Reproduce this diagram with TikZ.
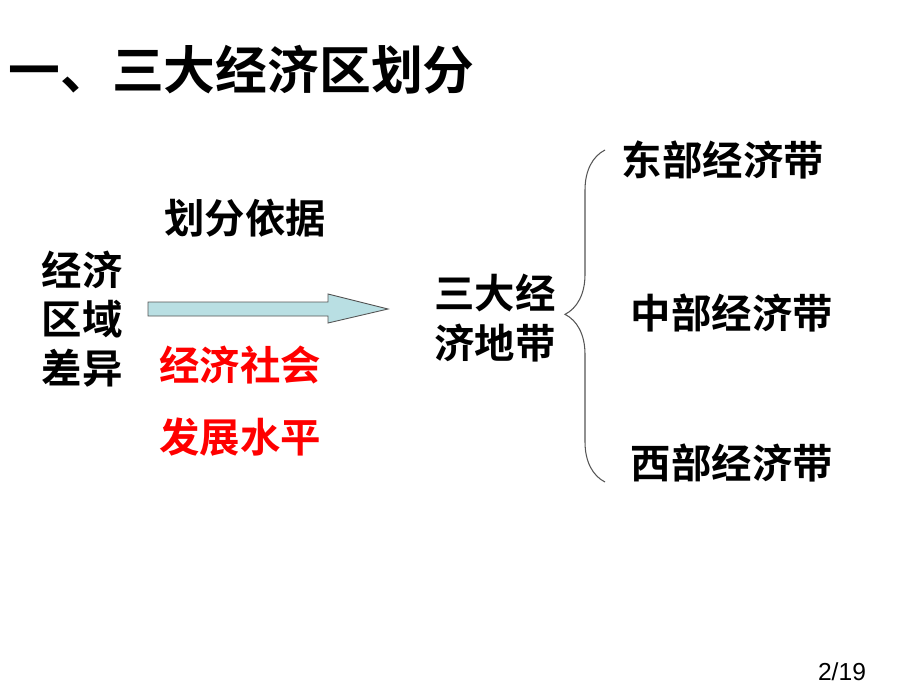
\documentclass[tikz,border=0pt]{standalone}
\usepackage{fontspec}
\setmainfont{Liberation Sans}
\newfontfamily\cjk[BoldFont={Noto Sans CJK SC Bold}]{Noto Sans CJK SC}
\usepackage{tikz}
\usetikzlibrary{positioning, decorations.pathreplacing}
\definecolor{arrowfill}{HTML}{B9DFE3}
\definecolor{braceline}{HTML}{555555}

\tikzset{
  zh/.style={font=\cjk\bfseries\fontsize{23}{28}\selectfont, inner sep=0pt, align=center},
  zhred/.style={zh, text=red},
  titletext/.style={font=\cjk\bfseries\fontsize{29.5}{34}\selectfont, inner sep=0pt},
}

\begin{document}
\begin{tikzpicture}[x=0.02cm, y=-0.02cm]
\useasboundingbox (0,0) rectangle (920,690);

% title
\node[titletext, anchor=west] (title) at (8,70) {一、三大经济区划分};

% left part
\node[zh] (diff) at (82,319) {经济\\区域\\差异};
\node[zh] (basis) at (245,218) {划分依据};
\node[zhred] (level1) at (240,365) {经济社会};
\node[zhred] (level2) at (240,437) {发展水平};

% arrow
\filldraw[fill=arrowfill, draw=braceline, line width=0.5pt]
  (148,302) -- (328,302) -- (328,294) -- (388,309)
  -- (328,323) -- (328,316) -- (148,316) -- cycle;

% three belts
\node[zh] (belts) at (495,318) {三大经\\济地带};
\node[zh] (east) at (723,160) {东部经济带};
\node[zh] (mid) at (732,313) {中部经济带};
\node[zh] (west) at (732,463) {西部经济带};

% brace
\coordinate (btop) at (605,150);
\coordinate (bbot) at (605,482);
\draw[braceline, line width=0.6pt, decorate,
  decoration={brace, amplitude=0.8cm, aspect=0.505}] (bbot) -- (btop);

% page number
\node[font=\fontsize{14}{16}\selectfont, inner sep=0pt] (page) at (842,672) {2/19};
\end{tikzpicture}
\end{document}
